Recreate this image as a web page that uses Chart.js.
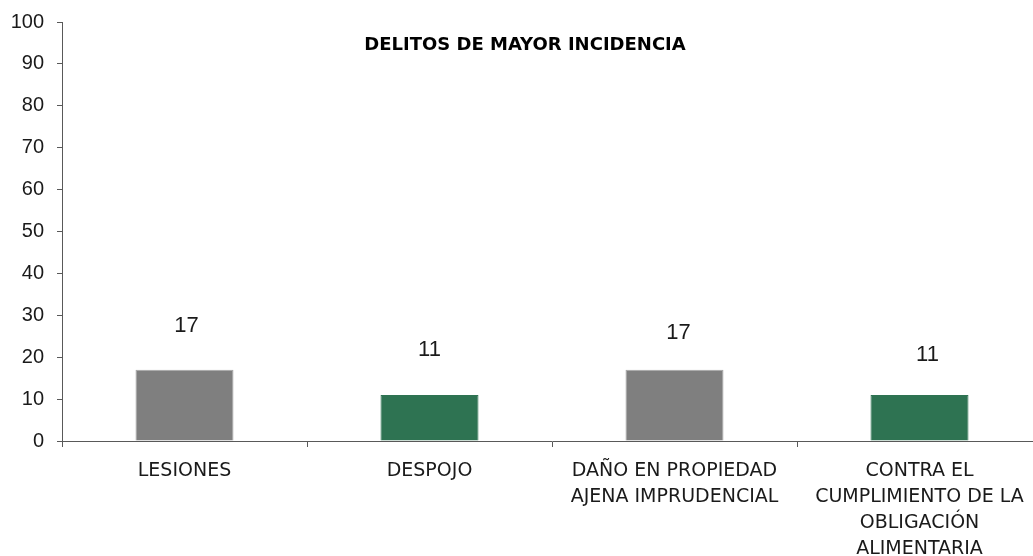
<!DOCTYPE html>
<html>
<head>
<meta charset="utf-8">
<script src="https://cdn.jsdelivr.net/npm/chart.js@4.4.1/dist/chart.umd.min.js"></script>
<style>
html,body{margin:0;padding:0;background:#fff;overflow:hidden;}
#wrap{width:1033px;height:556px;position:relative;overflow:hidden;}
canvas{display:block;}
</style>
</head>
<body>
<div id="wrap"><canvas id="c" width="1042" height="556"></canvas></div>
<script>
const categories = [
  ["LESIONES"],
  ["DESPOJO"],
  ["DAÑO EN PROPIEDAD", "AJENA IMPRUDENCIAL"],
  ["CONTRA EL", "CUMPLIMIENTO DE LA", "OBLIGACIÓN", "ALIMENTARIA"]
];
const values = [17, 11, 17, 11];
const barColors = ["#7F7F7F", "#2E7352", "#7F7F7F", "#2E7352"];
const borderColors = ["#A5A5A5", "#2E7352", "#A5A5A5", "#2E7352"];
const yTicks = [0,10,20,30,40,50,60,70,80,90,100];
const chartTitle = "DELITOS DE MAYOR INCIDENCIA";

const FONT = "'DejaVu Sans', sans-serif";
const NUMFONT = "'Liberation Sans', Arial, sans-serif";
// label placement offsets (style, not data)
const labelDX = [2, 0, 4, 8];
const labelDY = [44, 45, 37, 40];

const overlay = {
  id: 'overlay',
  afterDatasetsDraw(chart) {
    const ctx = chart.ctx;
    const meta = chart.getDatasetMeta(0);
    ctx.save();
    ctx.fillStyle = '#1a1a1a';
    ctx.font = '22px ' + NUMFONT;
    ctx.textAlign = 'center';
    ctx.textBaseline = 'middle';
    meta.data.forEach((bar, i) => {
      ctx.fillText(String(values[i]), bar.x + labelDX[i], bar.y - labelDY[i]);
    });
    ctx.font = 'bold 18px ' + FONT;
    ctx.fillStyle = '#000';
    ctx.fillText(chartTitle, 525, 45);
    ctx.restore();
  }
};

new Chart(document.getElementById('c'), {
  type: 'bar',
  data: {
    labels: categories,
    datasets: [{
      data: values,
      backgroundColor: barColors,
      borderColor: borderColors,
      borderWidth: 1,
      barPercentage: 0.4,
      categoryPercentage: 1.0
    }]
  },
  options: {
    responsive: false,
    animation: false,
    layout: { padding: { top: 22, left: 0, right: 0, bottom: 0 } },
    plugins: { legend: { display: false }, title: { display: false }, tooltip: { enabled: false } },
    scales: {
      x: {
        grid: { display: true, drawOnChartArea: false, offset: true, tickLength: 6, color: '#595959' },
        border: { color: '#595959', width: 1 },
        ticks: { color: '#1a1a1a', font: { family: FONT, size: 19, lineHeight: 1.37 }, padding: 11, maxRotation: 0, autoSkip: false },
        afterFit(s) { s.height = 115; s.paddingLeft = 0; s.paddingRight = 0; }
      },
      y: {
        min: 0, max: 100,
        afterBuildTicks(s) { s.ticks = yTicks.map(v => ({ value: v })); },
        grid: { display: true, drawOnChartArea: false, tickLength: 5, color: '#595959' },
        border: { color: '#595959', width: 1 },
        ticks: { color: '#1a1a1a', font: { family: NUMFONT, size: 20 }, padding: 13 },
        afterFit(s) { s.width = 62; s.paddingTop = 0; s.paddingBottom = 0; }
      }
    }
  },
  plugins: [overlay]
});
</script>
</body>
</html>
